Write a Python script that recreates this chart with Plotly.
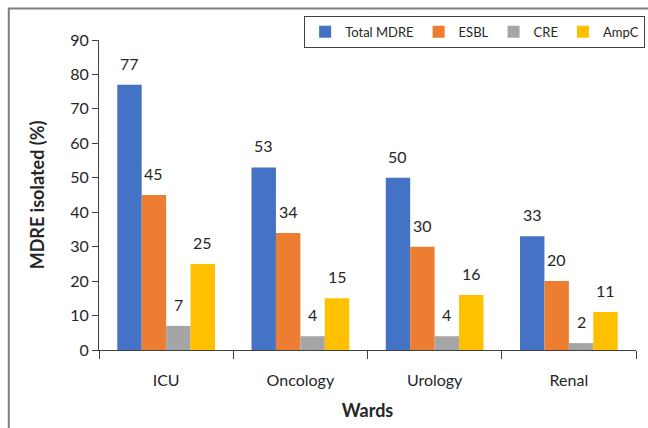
import plotly.graph_objects as go

wards = ["ICU", "Oncology", "Urology", "Renal"]
series_names = ["Total MDRE", "ESBL", "CRE", "AmpC"]
total_mdre = [77, 53, 50, 33]
esbl = [45, 34, 30, 20]
cre = [7, 4, 4, 2]
ampc = [25, 15, 16, 11]
colors = ["#4472C4", "#ED7D31", "#A5A5A5", "#FFC000"]

series_values = [total_mdre, esbl, cre, ampc]
FONT = "Lato, Open Sans, sans-serif"
TEXT = "#262626"
BARGAP = 0.272

fig = go.Figure()
for name, vals, col in zip(series_names, series_values, colors):
    fig.add_trace(go.Bar(x=wards, y=vals, name=name, marker_color=col,
                         marker_line_width=0))

# value labels above each bar
n = len(series_names)
w = (1 - BARGAP) / n
for si, vals in enumerate(series_values):
    off = -(1 - BARGAP) / 2 + w * (si + 0.5)
    for ci, v in enumerate(vals):
        fig.add_annotation(x=ci + off, y=v, xref="x", yref="y", text=str(v),
                           showarrow=False, yanchor="bottom", yshift=10,
                           font=dict(family=FONT, size=16, color=TEXT))

# outer frame
fig.add_shape(type="rect", xref="paper", yref="paper",
              x0=-0.168, x1=1.2, y0=-0.6, y1=1.102,
              line=dict(color="#7F7F7F", width=2), layer="below")

fig.update_layout(
    width=648, height=428,
    margin=dict(l=99, r=12, t=40, b=78, autoexpand=False),
    paper_bgcolor="white", plot_bgcolor="white",
    barmode="group", bargap=BARGAP, bargroupgap=0,
    font=dict(family=FONT, size=16, color=TEXT),
    legend=dict(orientation="h", x=1.017, xanchor="right", y=1.078, yanchor="top",
                bordercolor="#404040", borderwidth=1, bgcolor="white",
                font=dict(family=FONT, size=13, color=TEXT),
                itemwidth=30, tracegroupgap=0),
    xaxis=dict(showline=True, linecolor="#404040", linewidth=1,
               ticks="outside", tickson="boundaries", ticklen=8,
               tickcolor="#404040", showgrid=False, ticklabelstandoff=16,
               title=dict(text="<b>Wards</b>", font=dict(size=18), standoff=16),
               tickfont=dict(size=16)),
    yaxis=dict(range=[0, 90], dtick=10, showline=True, linecolor="#404040",
               linewidth=1, ticks="outside", ticklen=6, tickcolor="#404040",
               showgrid=False, zeroline=False,
               title=dict(text="<b>MDRE isolated (%)</b>", font=dict(size=18),
                          standoff=20),
               tickfont=dict(size=16)),
)

fig.write_html("out.html")
